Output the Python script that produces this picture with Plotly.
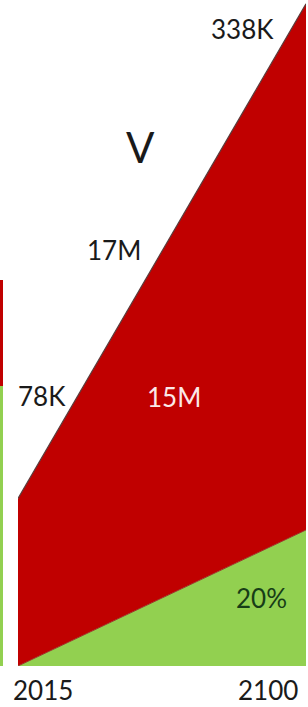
import plotly.graph_objects as go

# ---- data ----
years = [2015, 2100]
green_share = [0, 71.5]        # lower (green) band
red_band = [88, 276.5]         # upper (red) band, stacked on green

# remnant of neighbouring chart at left edge (single stacked bar)
strip_cat = ["prev"]
strip_green = [147]
strip_red = [56]

labels_top = {"338K": "338K", "V": "V", "17M": "17M", "78K": "78K"}
year_labels = ["2015", "2100"]

RED = "#C00000"
GREEN = "#92D050"
FONT = "Lato"

fig = go.Figure()

fig.add_trace(go.Scatter(
    x=years, y=green_share, stackgroup="one", mode="lines",
    line=dict(color="#9a3a2a", width=1), fillcolor=GREEN,
    xaxis="x", yaxis="y", showlegend=False, hoverinfo="skip"))
fig.add_trace(go.Scatter(
    x=years, y=red_band, stackgroup="one", mode="lines",
    line=dict(color="#5a3a3a", width=1.2), fillcolor=RED,
    xaxis="x", yaxis="y", showlegend=False, hoverinfo="skip"))

fig.add_trace(go.Bar(x=strip_cat, y=strip_green, marker=dict(color=GREEN, line=dict(width=0)),
                     xaxis="x2", yaxis="y", width=1, showlegend=False, hoverinfo="skip"))
fig.add_trace(go.Bar(x=strip_cat, y=strip_red, marker=dict(color=RED, line=dict(width=0)),
                     xaxis="x2", yaxis="y", width=1, showlegend=False, hoverinfo="skip"))

W, H_PLOT = 308, 666


def ann(text, px, py, size=26, color="#1a1a1a"):
    fig.add_annotation(
        text=text, xref="paper", yref="paper",
        x=px / W, y=(H_PLOT - py) / H_PLOT,
        xanchor="center", yanchor="middle", showarrow=False,
        font=dict(family=FONT, size=size, color=color))


ann(labels_top["338K"], 242, 29)
ann(labels_top["V"], 140, 147, size=42)
ann(labels_top["17M"], 114, 250)
ann(labels_top["78K"], 42, 396)
ann("15M", 174, 397, color="#fbe8e8")
ann("20%", 261, 598, color="#173d17")
ann(year_labels[0], 43, 690)
ann(year_labels[1], 268, 690)

fig.update_layout(
    width=308, height=707,
    margin=dict(l=0, r=0, t=0, b=41),
    paper_bgcolor="white", plot_bgcolor="white",
    barmode="stack", bargap=0,
    xaxis=dict(domain=[18 / W, 306 / W], range=[2015, 2100], visible=False),
    xaxis2=dict(domain=[0, 3 / W], range=[-0.5, 0.5], visible=False, anchor="y"),
    yaxis=dict(range=[0, 350], visible=False),
)

fig.write_html("out.html",
               config={"displayModeBar": False},
               post_script="document.body.style.margin='0';document.body.style.overflow='hidden';")
